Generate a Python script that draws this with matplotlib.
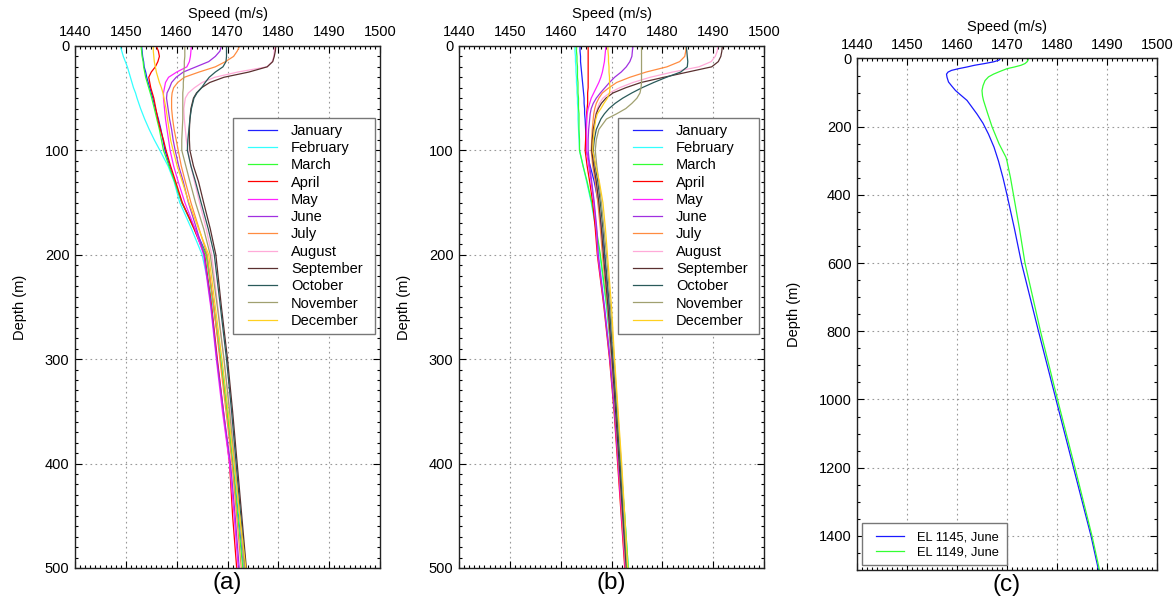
import numpy as np
import matplotlib.pyplot as plt
from matplotlib.patches import Rectangle
from matplotlib.ticker import MultipleLocator

plt.rcParams['font.family'] = ['Liberation Sans', 'DejaVu Sans']

months = ['January', 'February', 'March', 'April', 'May', 'June', 'July',
          'August', 'September', 'October', 'November', 'December']
month_colors = ['#2020ff', '#33ffff', '#33ff33', '#ff0000', '#ff22ff', '#a030e0',
                '#ff8c40', '#ffaad8', '#5a3030', '#2a5a5a', '#a0a070', '#ffd020']

# (a) monthly sound speed profiles, depth levels in m
depth_a = [0, 5, 10, 15, 20, 25, 30, 35, 40, 45, 50, 60, 70, 80, 90, 100,
           115, 130, 150, 175, 200, 250, 300, 350, 400, 450, 500]
speed_a = {
    'January':   [1453.1, 1453.2, 1453.3, 1453.5, 1453.6, 1453.9, 1454.1, 1454.4, 1454.7, 1455.0, 1455.3, 1455.8, 1456.4, 1456.9, 1457.3, 1457.7,
                  1458.6, 1459.6, 1461.0, 1463.6, 1465.9, 1467.3, 1468.7, 1470.0, 1471.1, 1472.2, 1473.2],
    'February':  [1448.9, 1449.2, 1449.5, 1449.9, 1450.3, 1450.6, 1450.9, 1451.2, 1451.5, 1451.9, 1452.2, 1452.9, 1453.7, 1454.6, 1455.6, 1456.7,
                  1458.3, 1459.5, 1460.6, 1462.9, 1465.0, 1467.2, 1468.8, 1470.1, 1471.2, 1472.3, 1473.4],
    'March':     [1453.0, 1453.1, 1453.2, 1453.4, 1453.5, 1453.7, 1453.9, 1454.2, 1454.5, 1454.8, 1455.1, 1455.6, 1456.1, 1456.6, 1457.0, 1457.4,
                  1458.5, 1459.6, 1461.0, 1463.4, 1465.8, 1467.3, 1468.6, 1469.9, 1471.0, 1472.0, 1473.0],
    'April':     [1456.0, 1456.4, 1456.6, 1456.3, 1455.8, 1455.0, 1454.5, 1454.7, 1454.9, 1455.2, 1455.5, 1455.9, 1456.3, 1456.8, 1457.4, 1457.9,
                  1458.8, 1459.8, 1461.1, 1463.4, 1465.5, 1466.9, 1468.0, 1469.2, 1470.4, 1471.0, 1471.8],
    'May':       [1462.9, 1462.8, 1462.7, 1462.5, 1462.0, 1460.0, 1458.4, 1457.8, 1457.6, 1457.4, 1457.4, 1457.6, 1457.8, 1458.1, 1458.4, 1458.7,
                  1459.4, 1460.3, 1461.6, 1463.6, 1465.3, 1466.7, 1467.8, 1469.0, 1470.4, 1471.3, 1472.1],
    'June':      [1468.8, 1468.5, 1467.6, 1466.3, 1463.8, 1461.3, 1459.9, 1459.0, 1458.6, 1458.1, 1458.0, 1458.3, 1458.6, 1459.0, 1459.3, 1459.7,
                  1460.4, 1461.3, 1462.3, 1463.9, 1465.4, 1466.8, 1467.9, 1469.2, 1470.6, 1471.5, 1472.3],
    'July':      [1472.4, 1471.9, 1471.2, 1469.6, 1467.6, 1464.4, 1461.5, 1460.2, 1459.4, 1459.1, 1459.0, 1459.0, 1459.2, 1459.5, 1459.9, 1460.3,
                  1460.9, 1461.7, 1462.8, 1464.4, 1466.0, 1467.3, 1468.5, 1469.7, 1470.9, 1471.8, 1472.7],
    'August':    [1479.3, 1479.2, 1479.1, 1478.8, 1477.8, 1472.0, 1467.5, 1465.0, 1463.5, 1462.3, 1461.7, 1461.4, 1461.5, 1461.7, 1461.9, 1462.2,
                  1462.8, 1463.5, 1464.5, 1465.8, 1466.9, 1468.1, 1469.3, 1470.5, 1471.5, 1472.4, 1473.3],
    'September': [1479.5, 1479.4, 1479.2, 1478.9, 1477.8, 1474.2, 1469.3, 1466.5, 1464.9, 1463.9, 1463.3, 1462.8, 1462.6, 1462.5, 1462.5, 1462.6,
                  1463.3, 1464.3, 1465.3, 1466.6, 1467.7, 1468.8, 1470.0, 1471.0, 1471.9, 1472.8, 1473.7],
    'October':   [1469.8, 1469.8, 1469.8, 1469.7, 1469.1, 1467.6, 1466.4, 1465.6, 1464.9, 1464.0, 1463.4, 1462.9, 1462.6, 1462.4, 1462.2, 1462.1,
                  1462.8, 1463.7, 1464.8, 1466.2, 1467.4, 1468.6, 1469.8, 1470.8, 1471.7, 1472.6, 1473.5],
    'November':  [1461.6, 1461.6, 1461.6, 1461.5, 1461.5, 1461.4, 1461.4, 1461.3, 1461.3, 1461.2, 1461.2, 1461.2, 1461.2, 1461.1, 1461.0, 1461.0,
                  1461.8, 1462.6, 1463.7, 1465.3, 1466.6, 1468.0, 1469.3, 1470.4, 1471.4, 1472.4, 1473.3],
    'December':  [1455.4, 1455.4, 1455.5, 1455.6, 1455.8, 1456.0, 1456.3, 1456.6, 1457.0, 1457.3, 1457.5, 1457.9, 1458.2, 1458.5, 1458.8, 1459.3,
                  1460.1, 1461.1, 1462.4, 1464.3, 1466.3, 1467.6, 1468.9, 1470.1, 1471.3, 1472.4, 1473.6],
}

# (b) monthly sound speed profiles, second site
depth_b = [0, 5, 10, 15, 20, 25, 30, 35, 40, 45, 50, 55, 60, 65, 70, 80, 90, 100,
           115, 130, 150, 175, 200, 250, 300, 350, 400, 450, 500]
speed_b = {
    'January':   [1463.8, 1463.8, 1463.9, 1463.9, 1464.0, 1464.1, 1464.2, 1464.3, 1464.4, 1464.5, 1464.6, 1464.6, 1464.7, 1464.7, 1464.8, 1464.9, 1465.0, 1465.0,
                  1465.8, 1466.6, 1467.4, 1468.0, 1468.6, 1469.4, 1470.2, 1470.9, 1471.6, 1472.3, 1473.0],
    'February':  [1462.8, 1462.8, 1462.9, 1462.9, 1463.0, 1463.0, 1463.1, 1463.1, 1463.2, 1463.2, 1463.3, 1463.3, 1463.4, 1463.4, 1463.4, 1463.5, 1463.6, 1463.7,
                  1464.4, 1465.1, 1466.0, 1466.9, 1467.7, 1469.0, 1470.0, 1470.9, 1471.8, 1472.6, 1473.3],
    'March':     [1463.1, 1463.1, 1463.2, 1463.2, 1463.3, 1463.3, 1463.3, 1463.4, 1463.4, 1463.4, 1463.5, 1463.5, 1463.5, 1463.6, 1463.6, 1463.6, 1463.7, 1463.7,
                  1464.4, 1465.2, 1466.1, 1467.0, 1467.8, 1469.1, 1470.1, 1471.0, 1471.8, 1472.6, 1473.3],
    'April':     [1465.4, 1465.4, 1465.4, 1465.4, 1465.4, 1465.4, 1465.4, 1465.4, 1465.4, 1465.3, 1465.3, 1465.3, 1465.2, 1465.1, 1465.1, 1465.0, 1464.9, 1464.8,
                  1465.2, 1465.7, 1466.3, 1466.8, 1467.2, 1468.5, 1469.6, 1470.5, 1471.2, 1471.9, 1472.6],
    'May':       [1468.9, 1468.8, 1468.7, 1468.6, 1468.4, 1468.2, 1467.9, 1467.5, 1467.0, 1466.5, 1466.0, 1465.7, 1465.4, 1465.2, 1465.1, 1465.1, 1465.1, 1465.1,
                  1465.5, 1466.0, 1466.5, 1467.0, 1467.3, 1468.6, 1469.7, 1470.6, 1471.3, 1472.0, 1472.7],
    'June':      [1474.2, 1474.1, 1474.0, 1473.6, 1472.9, 1471.9, 1470.6, 1469.6, 1468.7, 1467.8, 1467.0, 1466.4, 1466.0, 1465.8, 1465.7, 1465.5, 1465.4, 1465.4,
                  1465.7, 1466.1, 1466.6, 1467.1, 1467.4, 1468.6, 1469.7, 1470.6, 1471.4, 1472.1, 1472.8],
    'July':      [1484.7, 1484.6, 1484.4, 1483.4, 1480.9, 1476.8, 1473.6, 1471.0, 1469.5, 1468.2, 1467.5, 1467.0, 1466.7, 1466.5, 1466.4, 1466.2, 1466.1, 1466.0,
                  1466.3, 1466.8, 1467.3, 1467.8, 1468.2, 1469.2, 1470.0, 1470.8, 1471.5, 1472.1, 1472.8],
    'August':    [1490.9, 1490.8, 1490.4, 1489.6, 1487.2, 1482.0, 1477.6, 1474.2, 1471.6, 1469.6, 1468.3, 1467.6, 1467.2, 1466.9, 1466.7, 1466.5, 1466.4, 1466.3,
                  1466.6, 1467.0, 1467.5, 1468.0, 1468.4, 1469.3, 1470.1, 1470.8, 1471.5, 1472.2, 1472.9],
    'September': [1491.8, 1491.7, 1491.5, 1491.0, 1489.7, 1485.0, 1480.3, 1475.8, 1472.8, 1470.3, 1468.9, 1468.0, 1467.4, 1467.0, 1466.8, 1466.4, 1466.2, 1466.1,
                  1466.5, 1467.0, 1467.5, 1468.0, 1468.4, 1469.3, 1470.1, 1470.8, 1471.5, 1472.2, 1472.9],
    'October':   [1484.7, 1484.8, 1484.9, 1485.0, 1484.9, 1483.6, 1480.8, 1478.3, 1476.0, 1474.0, 1472.2, 1470.7, 1469.5, 1468.6, 1467.9, 1467.0, 1466.6, 1466.4,
                  1466.8, 1467.3, 1467.8, 1468.3, 1468.7, 1469.6, 1470.3, 1471.0, 1471.7, 1472.3, 1473.0],
    'November':  [1475.9, 1475.9, 1475.9, 1475.9, 1475.9, 1475.9, 1475.9, 1475.9, 1475.8, 1475.6, 1475.0, 1474.0, 1472.8, 1471.0, 1469.0, 1467.5, 1467.0, 1466.8,
                  1467.1, 1467.5, 1468.0, 1468.5, 1469.0, 1469.8, 1470.5, 1471.2, 1471.9, 1472.5, 1473.1],
    'December':  [1469.3, 1469.3, 1469.4, 1469.4, 1469.5, 1469.5, 1469.6, 1469.6, 1469.7, 1469.6, 1469.2, 1468.5, 1467.9, 1467.2, 1466.9, 1466.6, 1466.4, 1466.3,
                  1466.9, 1467.6, 1468.3, 1468.8, 1469.2, 1470.0, 1470.6, 1471.3, 1472.0, 1472.6, 1473.2],
}

# (c) June profiles at two stations
depth_el1145 = [0, 5, 10, 15, 20, 25, 30, 35, 40, 46, 55, 69, 80, 94, 108, 123, 143, 163, 190, 222,
                260, 301, 350, 400, 500, 600, 800, 1000, 1200, 1400, 1500]
speed_el1145 = [1468.7, 1468.4, 1467.3, 1465.5, 1463.5, 1462.0, 1460.3, 1458.9, 1458.2, 1457.9, 1458.0, 1458.3, 1458.9, 1459.7,
                1460.8, 1462.0, 1463.0, 1464.0, 1465.2, 1466.3, 1467.4, 1468.3, 1469.2, 1470.0, 1471.5, 1472.9,
                1476.3, 1479.8, 1483.3, 1486.8, 1488.3]
depth_el1149 = [0, 5, 10, 15, 20, 25, 30, 38, 46, 54, 65, 80, 94, 110, 123, 160, 200, 250, 290, 301,
                350, 400, 500, 600, 800, 1000, 1200, 1400, 1500]
speed_el1149 = [1474.3, 1474.2, 1474.0, 1473.6, 1472.8, 1471.5, 1470.0, 1468.6, 1467.3, 1466.3, 1465.6, 1465.2, 1465.0,
                1465.1, 1465.3, 1466.1, 1467.0, 1468.4, 1469.8, 1470.0, 1470.7, 1471.3, 1472.5, 1473.6,
                1476.7, 1480.1, 1483.6, 1487.0, 1488.5]

fig = plt.figure(figsize=(11.74, 6.07), dpi=100)
ax_a = fig.add_axes([0.0639, 0.0643, 0.2598, 0.8600])
ax_b = fig.add_axes([0.3910, 0.0643, 0.2598, 0.8600])
ax_c = fig.add_axes([0.7300, 0.0610, 0.2555, 0.8427])


def style_axes(ax, ymax, ymajor, yminor):
    ax.set_xlim(1440, 1500)
    ax.set_ylim(ymax, 0)
    ax.xaxis.set_major_locator(MultipleLocator(10))
    ax.xaxis.set_minor_locator(MultipleLocator(1))
    ax.yaxis.set_major_locator(MultipleLocator(ymajor))
    ax.yaxis.set_minor_locator(MultipleLocator(yminor))
    ax.xaxis.set_label_position('top')
    ax.tick_params(which='both', direction='in', top=True, bottom=True, left=True, right=True,
                   labeltop=True, labelbottom=False, labelsize=10.5, width=0.8)
    ax.tick_params(axis='x', which='both', pad=5)
    ax.tick_params(axis='y', which='both', pad=4)
    ax.tick_params(which='major', length=5)
    ax.tick_params(which='minor', length=2.5)
    ax.grid(True, which='major', linestyle=(0, (1.5, 3)), color='#999999', linewidth=0.8)
    ax.set_xlabel('Speed (m/s)', fontsize=10.5, labelpad=5)
    ax.set_ylabel('Depth (m)', fontsize=10.5, labelpad=13)
    for s in ax.spines.values():
        s.set_linewidth(1.0)
        s.set_color('#222222')


def legend_box(ax, x0, y0, w, h):
    # white framed box behind a frameless legend
    ax.add_patch(Rectangle((x0, y0), w, h, transform=ax.transAxes, facecolor='white',
                           edgecolor='#777777', linewidth=1.0, zorder=4.5))


for ax, depth, speeds, box_x in [(ax_a, depth_a, speed_a, 0.518), (ax_b, depth_b, speed_b, 0.521)]:
    for m, c in zip(months, month_colors):
        ax.plot(speeds[m], depth, color=c, linewidth=0.9, label=m)
    style_axes(ax, 500, 100, 10)
    legend_box(ax, box_x, 0.448, 0.464, 0.414)
    ax.legend(loc='upper left', bbox_to_anchor=(box_x + 0.049, 0.851), borderaxespad=0,
              fontsize=10.5, handlelength=2.0, handletextpad=0.95, labelspacing=0.225,
              borderpad=0, frameon=False)

ax_c.plot(speed_el1145, depth_el1145, color='#1a1aff', linewidth=0.9, label='EL 1145, June')
ax_c.plot(speed_el1149, depth_el1149, color='#33ff33', linewidth=0.9, label='EL 1149, June')
style_axes(ax_c, 1500, 200, 50)
legend_box(ax_c, 0.0167, 0.0098, 0.483, 0.082)
ax_c.legend(loc='lower left', bbox_to_anchor=(0.063, 0.023), borderaxespad=0,
            fontsize=9.3, handlelength=2.2, handletextpad=1.0, labelspacing=0.2,
            borderpad=0, frameon=False)

for ax, tag in [(ax_a, '(a)'), (ax_b, '(b)'), (ax_c, '(c)')]:
    ax.text(0.5, -0.008, tag, transform=ax.transAxes, ha='center', va='top', fontsize=17.5)

fig.savefig('out.png', dpi=100)
